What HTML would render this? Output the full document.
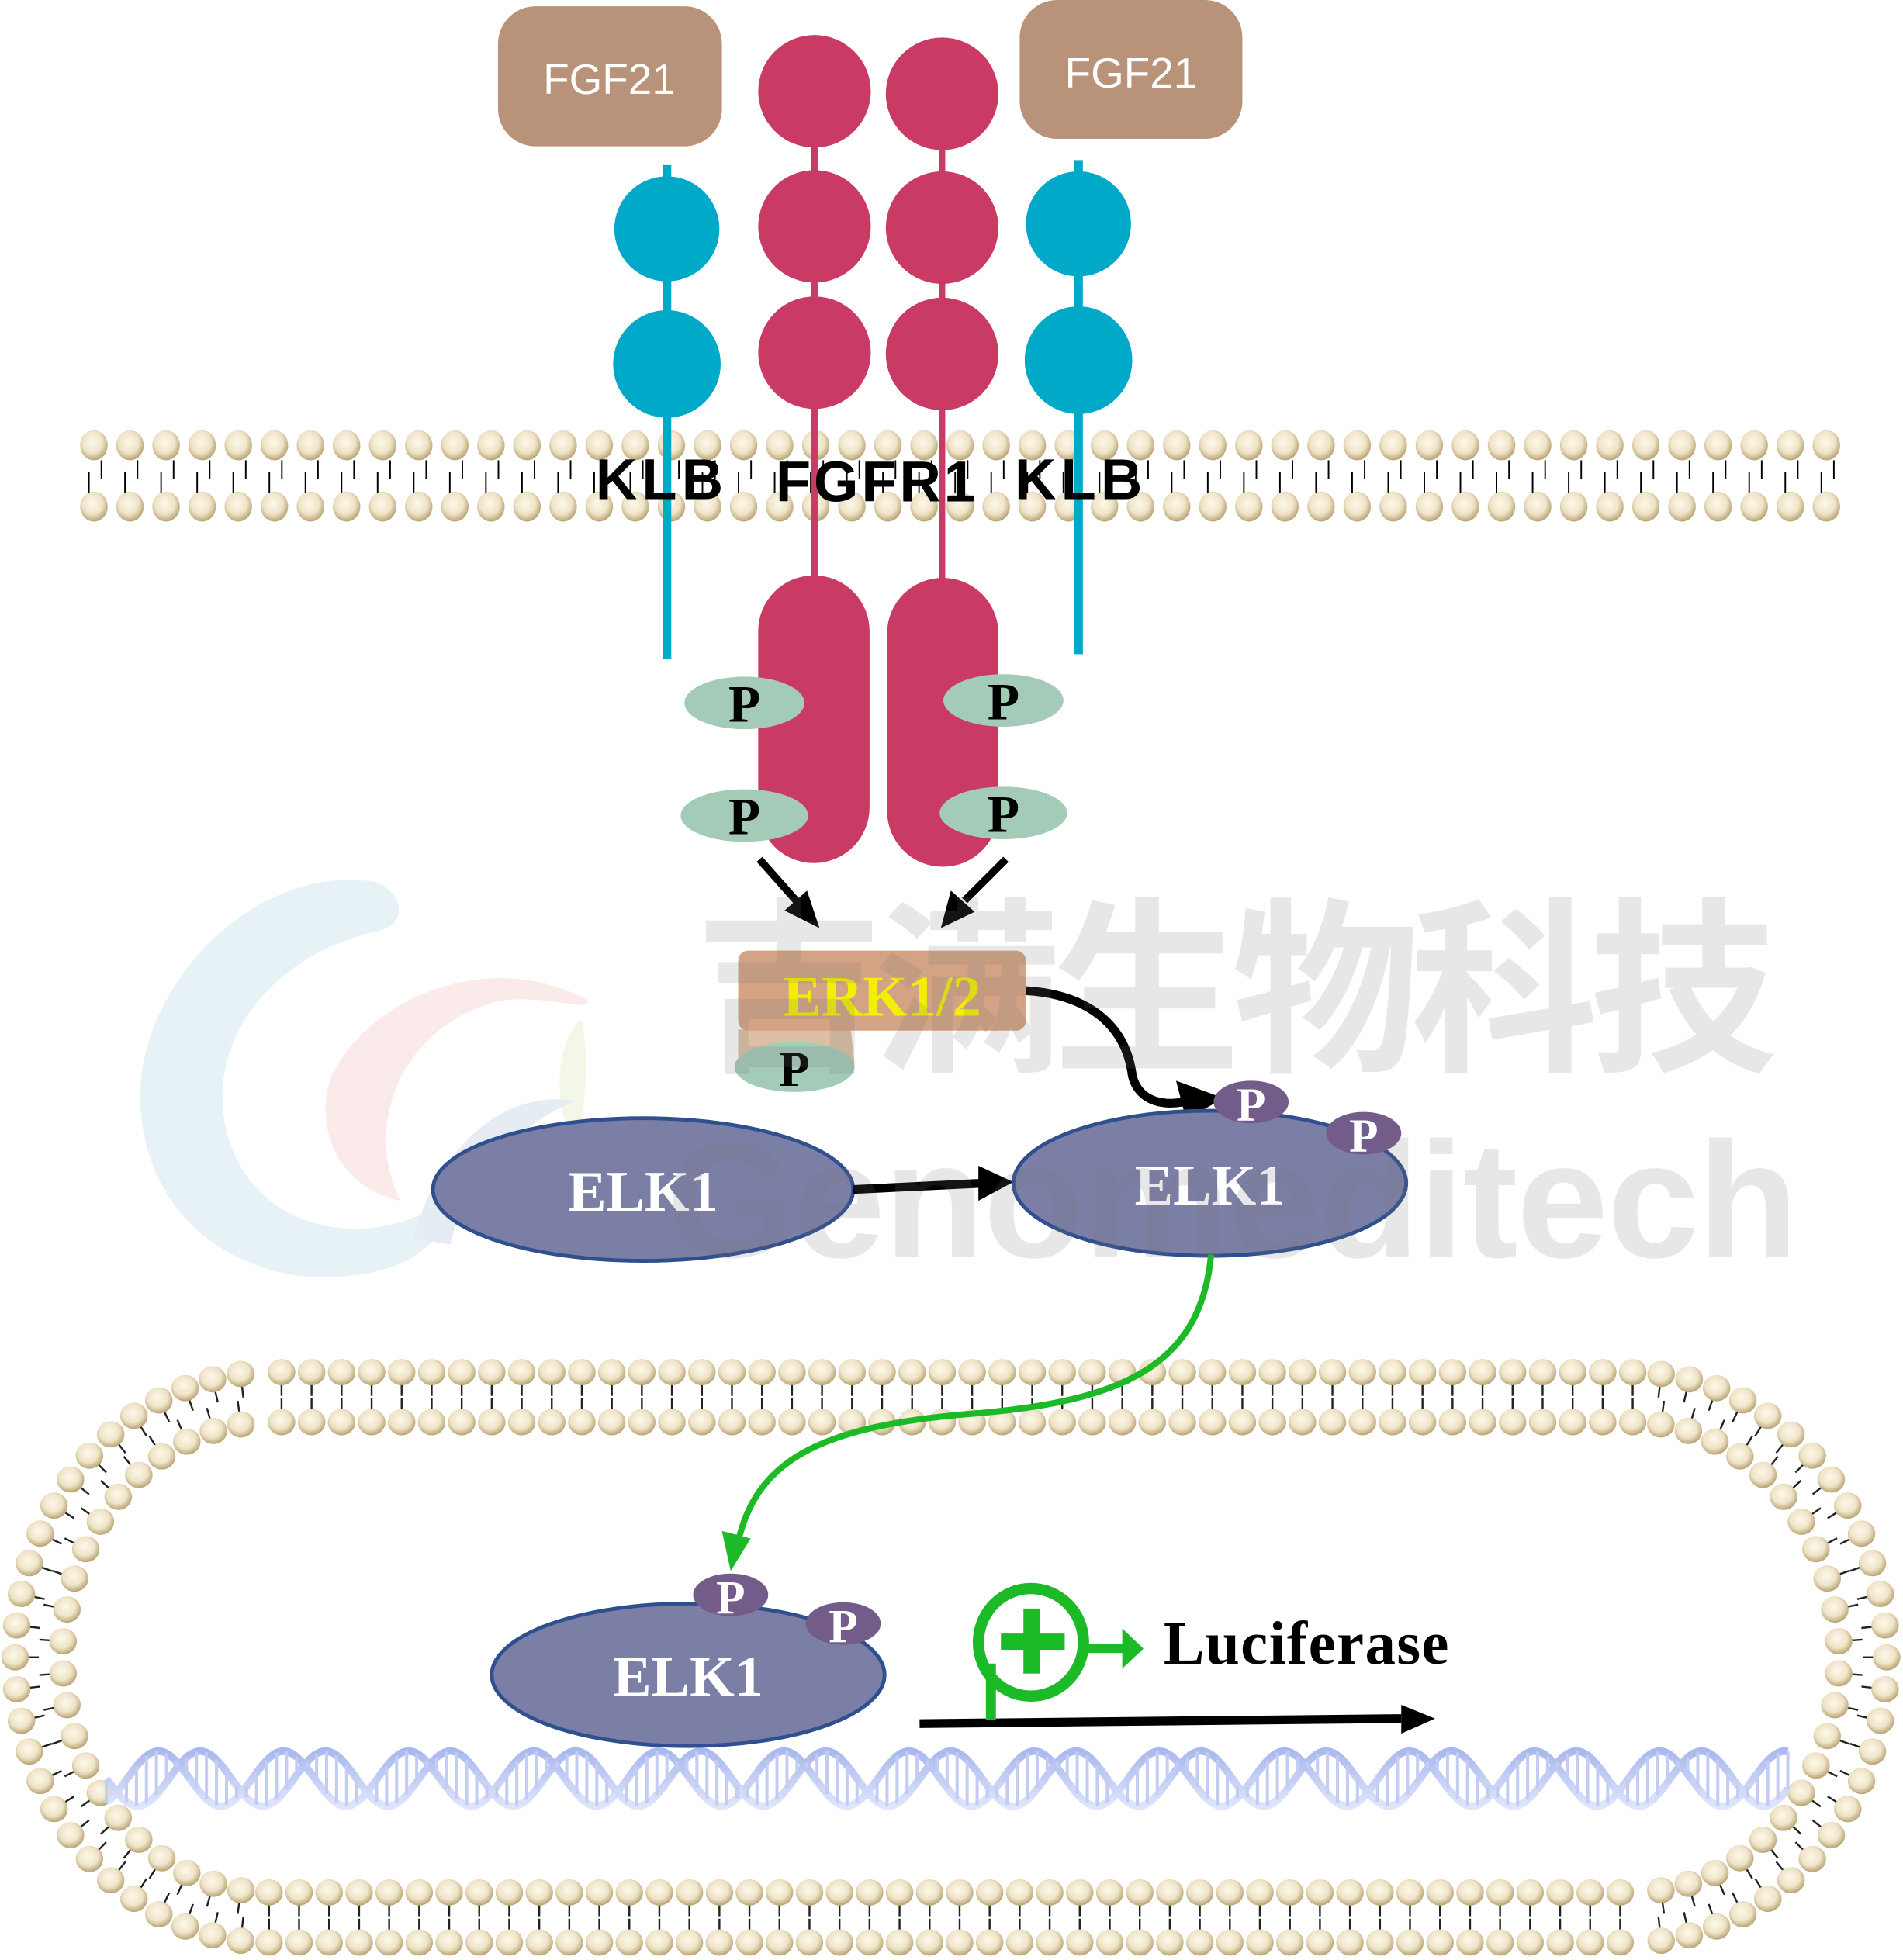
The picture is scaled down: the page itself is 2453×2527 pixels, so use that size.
<!DOCTYPE html>
<html><head><meta charset="utf-8"><style>
html,body{margin:0;padding:0;background:#fff;}
svg{display:block;}
.ser{font-family:"Liberation Serif",serif;font-weight:bold;}
</style></head><body>
<svg id="s" width="2453" height="2527" viewBox="0 0 1521 1567" xmlns="http://www.w3.org/2000/svg">
<defs>
<radialGradient id="hd" cx="0.45" cy="0.4" r="0.6">
<stop offset="0" stop-color="#fdf8ea"/><stop offset="0.6" stop-color="#efe4c8"/><stop offset="1" stop-color="#b8a373"/>
</radialGradient>
<linearGradient id="dna" x1="0" y1="0" x2="0" y2="1">
<stop offset="0" stop-color="#a9b8ee"/><stop offset="1" stop-color="#dfe5fb"/>
</linearGradient>
</defs>
<g id="logo" opacity="0.5">
<path d="M300,705 C200,690 110,790 112,880 C115,980 200,1030 280,1020 C330,1015 360,990 355,960 C300,1000 200,990 180,900 C165,820 230,760 300,745 C330,738 320,712 300,705 Z" fill="#cfe6ef"/>
<path d="M470,800 C400,760 300,790 265,860 C250,900 270,950 320,960 C290,900 320,820 400,800 C440,795 470,810 470,800 Z" fill="#f6d6d6"/>
<path d="M465,815 C445,830 440,880 460,920 C470,880 470,840 465,815 Z" fill="#e7f0d2"/>
<path d="M330,990 C350,920 400,870 460,880 C410,900 370,950 360,995 Z" fill="#cfdbea"/>
</g>
<g id="mem"></g>
<g id="nuc"></g>
<g id="dnag"></g>

<rect x="398" y="5" width="179" height="112" rx="30" fill="#b8937a"/>
<text x="487" y="75" font-family="Liberation Sans" font-size="34" fill="#fff" text-anchor="middle">FGF21</text>
<rect x="815" y="0" width="178" height="111" rx="30" fill="#b8937a"/>
<text x="904" y="70" font-family="Liberation Sans" font-size="34" fill="#fff" text-anchor="middle">FGF21</text>

<line x1="533" y1="132" x2="533" y2="527" stroke="#00a9c8" stroke-width="7"/>
<circle cx="533" cy="183" r="42" fill="#00a9c8"/><circle cx="533" cy="291" r="43" fill="#00a9c8"/>
<line x1="862" y1="128" x2="862" y2="523" stroke="#00a9c8" stroke-width="7"/>
<circle cx="862" cy="179" r="42" fill="#00a9c8"/><circle cx="862" cy="288" r="43" fill="#00a9c8"/>

<line x1="651" y1="75" x2="651" y2="470" stroke="#c93a64" stroke-width="5"/>
<line x1="753" y1="75" x2="753" y2="470" stroke="#c93a64" stroke-width="5"/>
<g fill="#c93a64">
<circle cx="651" cy="73" r="45"/><circle cx="651" cy="181" r="45"/><circle cx="651" cy="282" r="45"/>
<circle cx="753" cy="75" r="45"/><circle cx="753" cy="182" r="45"/><circle cx="753" cy="283" r="45"/>
<rect x="606" y="460" width="89" height="230" rx="44.5"/>
<rect x="709" y="462" width="89" height="231" rx="44.5"/>
</g>

<g font-family="Liberation Sans" font-weight="bold" font-size="46" fill="#000" text-anchor="middle">
<text x="527" y="399" textLength="102">KLB</text><text x="700" y="401" textLength="160">FGFR1</text><text x="862" y="399" textLength="102">KLB</text>
</g>

<g fill="#a3cbb8">
<ellipse cx="595" cy="562" rx="48" ry="21"/><ellipse cx="595" cy="652" rx="51" ry="21"/>
<ellipse cx="802" cy="560" rx="48" ry="21"/><ellipse cx="802" cy="650" rx="51" ry="21"/>
</g>
<g class="ser" font-size="42" fill="#000" text-anchor="middle">
<text x="595" y="577">P</text><text x="595" y="667">P</text><text x="802" y="575">P</text><text x="802" y="665">P</text>
</g>

<line x1="607" y1="687" x2="638" y2="722" stroke="#000" stroke-width="6"/>
<polygon points="655,742 627,728 645,712" fill="#000"/>
<line x1="804" y1="687" x2="771" y2="720" stroke="#000" stroke-width="6"/>
<polygon points="752,742 760,712 779,729" fill="#000"/>

<path d="M590,823 L680,823 L683,850 L590,850 Z" fill="#ddbfa3"/>
<rect x="590" y="760" width="230" height="64" rx="8" fill="#d3a383"/>
<ellipse cx="635" cy="853" rx="48" ry="20" fill="#a3cbb8"/>
<text x="635" y="868" class="ser" font-size="40" fill="#000" text-anchor="middle">P</text>
<text x="705" y="812" class="ser" font-size="46" fill="#f2f000" text-anchor="middle">ERK1/2</text>

<path d="M820,792 C870,795 900,820 905,860 C910,880 930,888 960,877" fill="none" stroke="#000" stroke-width="7"/>
<polygon points="978,878 948,895 940,864" fill="#000"/>

<ellipse cx="514" cy="951" rx="168" ry="57" fill="#7b7fa6" stroke="#2f4f8f" stroke-width="3"/>
<text x="514" y="968" class="ser" font-size="46" fill="#fff" text-anchor="middle">ELK1</text>
<line x1="682" y1="951" x2="785" y2="946" stroke="#000" stroke-width="7"/>
<polygon points="810,945 782,932 782,960" fill="#000"/>
<ellipse cx="967" cy="946" rx="157" ry="58" fill="#7b7fa6" stroke="#2f4f8f" stroke-width="3"/>
<text x="967" y="963" class="ser" font-size="46" fill="#fff" text-anchor="middle">ELK1</text>
<ellipse cx="1000" cy="881" rx="30" ry="17" fill="#735b8a"/>
<ellipse cx="1090" cy="906" rx="30" ry="17" fill="#735b8a"/>
<text x="1000" y="896" class="ser" font-size="38" fill="#fff" text-anchor="middle">P</text>
<text x="1090" y="921" class="ser" font-size="38" fill="#fff" text-anchor="middle">P</text>

<path d="M968,1003 C960,1090 900,1120 780,1130 C650,1140 605,1170 590,1232" fill="none" stroke="#1dba27" stroke-width="5"/>
<polygon points="584,1256 577,1224 600,1230" fill="#1dba27"/>

<ellipse cx="550" cy="1339" rx="157" ry="57" fill="#7b7fa6" stroke="#2f4f8f" stroke-width="3"/>
<text x="550" y="1356" class="ser" font-size="46" fill="#fff" text-anchor="middle">ELK1</text>
<ellipse cx="584" cy="1275" rx="30" ry="17" fill="#735b8a"/>
<ellipse cx="674" cy="1298" rx="30" ry="17" fill="#735b8a"/>
<text x="584" y="1290" class="ser" font-size="38" fill="#fff" text-anchor="middle">P</text>
<text x="674" y="1313" class="ser" font-size="38" fill="#fff" text-anchor="middle">P</text>

<line x1="735" y1="1378" x2="1120" y2="1374" stroke="#000" stroke-width="7"/>
<polygon points="1147,1374 1120,1363 1120,1386" fill="#000"/>
<line x1="792" y1="1375" x2="792" y2="1330" stroke="#1dba27" stroke-width="8"/>
<ellipse cx="824" cy="1313" rx="42" ry="43" fill="none" stroke="#1dba27" stroke-width="9"/>
<rect x="818" y="1286" width="13" height="52" fill="#1dba27"/>
<rect x="800" y="1306" width="51" height="13" fill="#1dba27"/>
<line x1="866" y1="1318" x2="898" y2="1318" stroke="#1dba27" stroke-width="7"/>
<polygon points="914,1318 897,1302 897,1334" fill="#1dba27"/>
<text x="930" y="1330" class="ser" font-size="49" fill="#000" textLength="228">Luciferase</text>

<g fill="#777" opacity="0.17" font-family="Liberation Sans, 'Noto Sans CJK SC', sans-serif" font-weight="bold">
<text x="988" y="845" font-size="150" text-anchor="middle" textLength="865" font-family="'Noto Sans CJK SC', sans-serif">吉满生物科技</text>
<text x="985" y="1005" font-size="132" text-anchor="middle" textLength="905">Genomeditech</text>
</g>
</svg>
<script>
var NS="http://www.w3.org/2000/svg";
function el(p,t,a){var e=document.createElementNS(NS,t);for(var k in a)e.setAttribute(k,a[k]);p.appendChild(e);return e;}
var mem=document.getElementById('mem');
for(var i=0;i<49;i++){var x=75+i*28.85;
 el(mem,'line',{x1:x+6,y1:368,x2:x+6,y2:383,stroke:'#000','stroke-width':1.2});
 el(mem,'line',{x1:x-4,y1:377,x2:x-4,y2:395,stroke:'#000','stroke-width':1.2});
 el(mem,'ellipse',{cx:x,cy:356,rx:11,ry:12,fill:'url(#hd)'});
 el(mem,'ellipse',{cx:x,cy:405,rx:11,ry:12,fill:'url(#hd)'});}
var nuc=document.getElementById('nuc');
var L=215,R=1305,cy=1325;
function ring(rx,ry,step){
 var pts=[];
 for(var x=R;x>=L;x-=step)pts.push([x,cy-ry,0,-1]);
 var n=Math.round(Math.PI*(rx+ry)/2/step);
 for(var k=1;k<n;k++){var a=-Math.PI/2-Math.PI*k/n;var c=Math.cos(a),s=Math.sin(a);pts.push([L+rx*c,cy+ry*s,c,s]);}
 for(var x=L;x<=R;x+=step)pts.push([x,cy+ry,0,1]);
 for(var k=1;k<n;k++){var a=Math.PI/2-Math.PI*k/n;var c=Math.cos(a),s=Math.sin(a);pts.push([R+rx*c,cy+ry*s,c,s]);}
 return pts;}
var outer=ring(203,228,24),inner=ring(165,188,24);
[outer,inner].forEach(function(pp,j){pp.forEach(function(p){
 var nx=p[2],ny=p[3],l=Math.hypot(nx,ny)||1;nx/=l;ny/=l;var d=j==0?-1:1;
 el(nuc,'line',{x1:p[0]+nx*d*10,y1:p[1]+ny*d*10,x2:p[0]+nx*d*19,y2:p[1]+ny*d*19,stroke:'#222','stroke-width':1.5});
 el(nuc,'ellipse',{cx:p[0],cy:p[1],rx:11,ry:10.5,fill:'url(#hd)'});});});
var g=document.getElementById('dnag');var P=100,x0=85,x1=1430,yc=1422,A=22,ph=2.1;
var d1='',d2='';
for(var x=x0;x<=x1;x+=2){var t=(x-x0)/P*2*Math.PI;var y=yc+A*Math.sin(t);var y2=yc+A*Math.sin(t+ph);
 d1+=(x==x0?'M':'L')+x+','+y.toFixed(1);d2+=(x==x0?'M':'L')+x+','+y2.toFixed(1);}
el(g,'path',{d:d1,fill:'none',stroke:'url(#dna)','stroke-width':6});
el(g,'path',{d:d2,fill:'none',stroke:'url(#dna)','stroke-width':6});
for(var x=x0;x<=x1;x+=8){var t=(x-x0)/P*2*Math.PI;var y=yc+A*Math.sin(t),y2=yc+A*Math.sin(t+ph);
 el(g,'line',{x1:x,y1:y,x2:x,y2:y2,stroke:'#c3cdf4','stroke-width':2.5});}
</script>
</body></html>
